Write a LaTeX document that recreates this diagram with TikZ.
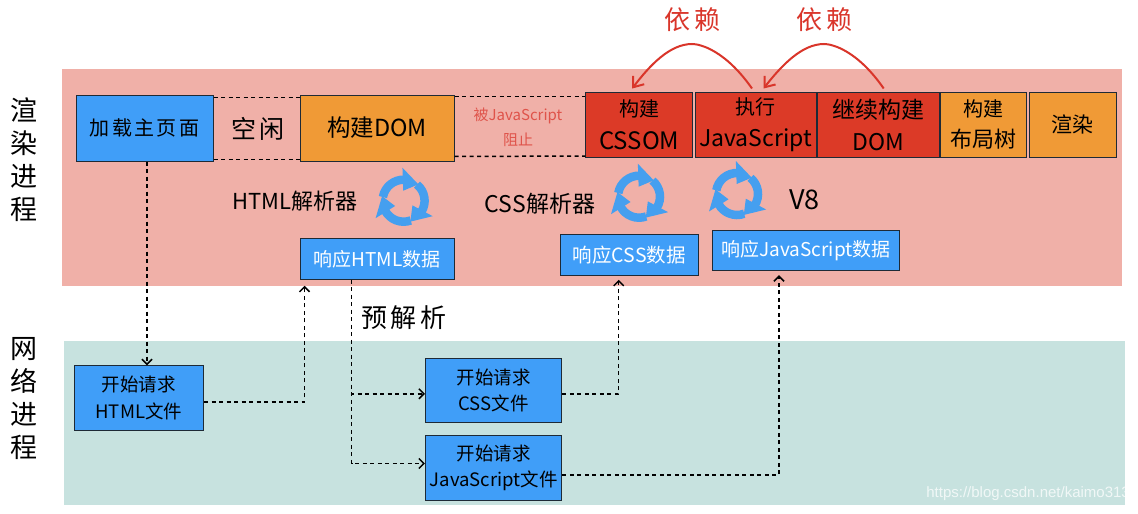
\documentclass[tikz,border=0pt]{standalone}
\usepackage{fontspec}
\setmainfont{Noto Sans CJK SC}
\newfontfamily\markfont{Liberation Sans}
\newfontfamily\widefont[LetterSpace=12]{Noto Sans CJK SC}
\usetikzlibrary{arrows.meta}

\definecolor{bandred}{HTML}{F0B0A8}
\definecolor{bandgreen}{HTML}{C7E2DF}
\definecolor{boxblue}{HTML}{409EF8}
\definecolor{boxorange}{HTML}{F09A36}
\definecolor{boxred}{HTML}{DC3A27}
\definecolor{edgedark}{HTML}{1E2A36}
\definecolor{cycleblue}{HTML}{459FEF}
\definecolor{inkred}{HTML}{D9352A}

\tikzset{
    stage/.style={draw=edgedark, line width=1pt, inner sep=0pt, align=center, text=black},
    bluebox/.style={stage, fill=boxblue},
    orangebox/.style={stage, fill=boxorange},
    redbox/.style={stage, fill=boxred},
    flow/.style={line width=1.5pt, dash pattern=on 4pt off 3.5pt, -{Straight Barb[length=5pt,width=10pt,line width=1.5pt]}},
    idle/.style={line width=1.5pt, dash pattern=on 4pt off 3.5pt},
    depend/.style={inkred, line width=2pt, -{Straight Barb[length=9pt,width=14pt,line width=2pt]}},
    cyclearrows/.pic={
        \foreach \turn in {0,-120,-240} {
            \begin{scope}[rotate=\turn]
                \draw[cycleblue, line width=8.5pt] (170:21) arc (170:88:21);
                \fill[cycleblue] (92:33) -- (92:10) -- (48:22) -- cycle;
            \end{scope}
        }
    }
}

\newcommand{\sz}[1]{\fontsize{#1}{#1}\selectfont}

\begin{document}
\begin{tikzpicture}[x=1pt, y=1pt]
    \useasboundingbox (0,-514) rectangle (1138,0);

    % 1. BANDS
    \fill[bandred] (62,-69) rectangle (1122,-286);
    \fill[bandgreen] (64,-341) rectangle (1125,-505);

    % SIDE LABELS
    \node[align=center, font=\sz{27}, inner sep=0pt] (render) at (24,-160)
        {渲\\[6pt]染\\[6pt]进\\[6pt]程};
    \node[align=center, font=\sz{27}, inner sep=0pt] (network) at (24,-399)
        {网\\[6pt]络\\[6pt]进\\[6pt]程};

    % 2. TOP ROW OF STAGES
    \node[bluebox, minimum width=137pt, minimum height=66pt, font=\widefont\sz{20}] (loadpage) at (144.5,-128) {加载主页面};
    \node[font=\widefont\sz{25}, inner sep=0pt] (idletext) at (258,-129) {空闲};
    \node[orangebox, minimum width=154pt, minimum height=66pt, font=\sz{23.5}] (builddom) at (377,-128) {构建DOM};
    \node[align=center, font=\sz{15}, text=inkred!85!white, inner sep=0pt] (blocked) at (518,-127.5)
        {被JavaScript\\[8pt]阻止};
    \node[redbox, minimum width=106.5pt, minimum height=65pt, font=\sz{24}] (cssom) at (639.2,-124.5) {{\sz{20}构建}\\[9pt]CSSOM};
    \node[redbox, minimum width=121pt, minimum height=65pt, font=\sz{23}] (runjs) at (755.5,-124.5) {{\sz{20}执行}\\[9pt]JavaScript};
    \node[redbox, minimum width=121.5pt, minimum height=65pt, font=\sz{23}] (contdom) at (878.7,-124.5) {继续构建\\[9pt]DOM};
    \node[orangebox, minimum width=86.5pt, minimum height=65pt, font=\sz{22}] (layout) at (983.7,-124.5) {{\sz{20}构建}\\[9pt]布局树};
    \node[orangebox, minimum width=87pt, minimum height=65pt, font=\sz{21}] (paint) at (1072.5,-124.5) {渲染};

    % DASHED GAPS
    \draw[idle] ([yshift=-3]loadpage.north east) -- ([yshift=-3]builddom.north west);
    \draw[idle] ([yshift=2]loadpage.south east) -- ([yshift=2]builddom.south west);
    \draw[idle] ([yshift=-2]builddom.north east) -- ([yshift=-5]cssom.north west);
    \draw[idle] ([yshift=5]builddom.south east) -- ([yshift=1.5]cssom.south west);

    % 3. DEPENDENCIES
    \node[font=\widefont\sz{26}, text=inkred, inner sep=0pt] (dep1) at (692.5,-20) {依赖};
    \node[font=\widefont\sz{26}, text=inkred, inner sep=0pt] (dep2) at (824.5,-20) {依赖};
    \draw[depend] ([xshift=-3.5,yshift=3]runjs.north) .. controls (725,-50) and (700,-44) .. (692,-44)
        .. controls (670,-44) and (650,-65) .. ([xshift=-7,yshift=3]cssom.north);
    \draw[depend] ([xshift=5,yshift=3]contdom.north) .. controls (857,-50) and (832,-44) .. (824,-44)
        .. controls (802,-44) and (782,-65) .. ([xshift=8,yshift=3]runjs.north);

    % 4. PARSERS
    \node[font=\sz{22}, inner sep=0pt] (htmlparser) at (294.5,-201) {HTML解析器};
    \node[font=\sz{23}, inner sep=0pt] (cssparser) at (540,-204) {CSS解析器};
    \node[font=\sz{27}, inner sep=0pt] (veight) at (804.5,-200) {V8};
    \pic at (403.6,-200.7) {cyclearrows};
    \pic at (639,-196.7) {cyclearrows};
    \pic at (737,-194) {cyclearrows};

    % RESPONSES
    \node[bluebox, minimum width=154pt, minimum height=40.5pt, font=\sz{19}, text=white] (resphtml) at (377,-259) {响应HTML数据};
    \node[bluebox, minimum width=138.5pt, minimum height=41pt, font=\sz{19.5}, text=white] (respcss) at (629.4,-254.8) {响应CSS数据};
    \node[bluebox, minimum width=187pt, minimum height=40pt, font=\sz{19}, text=white] (respjs) at (806,-250.7) {响应JavaScript数据};

    \node[font=\widefont\sz{26}, inner sep=0pt] (preparse) at (404,-317.5) {预解析};

    % 5. REQUESTS
    \node[bluebox, minimum width=129.5pt, minimum height=64.5pt, font=\sz{18.5}] (reqhtml) at (138.8,-398) {开始请求\\[8pt]HTML文件};
    \node[bluebox, minimum width=136.5pt, minimum height=64pt, font=\sz{18.5}] (reqcss) at (493.7,-390.3) {开始请求\\[8pt]CSS文件};
    \node[bluebox, minimum width=136.5pt, minimum height=64.5pt, font=\sz{18.5}] (reqjs) at (493.7,-468) {开始请求\\[8pt]JavaScript文件};

    % 6. DASHED FLOWS
    \draw[flow] ([xshift=2.5]loadpage.south) -- ([xshift=8.2]reqhtml.north);
    \draw[flow, shorten >=6pt] ([yshift=-4]reqhtml.east) -| ([xshift=-72.5]resphtml.south);
    \draw[flow] ([xshift=-25.4]resphtml.south) |- ([yshift=-3.5]reqcss.west);
    \draw[flow] ([xshift=-25.4]resphtml.south) |- ([yshift=4.5]reqjs.west);
    \draw[flow, shorten >=4pt] ([yshift=-3.5]reqcss.east) -| ([xshift=-10.7]respcss.south);
    \draw[flow, shorten >=4pt] ([yshift=-7]reqjs.east) -| ([xshift=-27]respjs.south);

    % WEB ADDRESS
    \node[font=\markfont\sz{15}, text=white, opacity=0.75, anchor=east, inner sep=0pt] (weblink) at (1130,-494) {https://blog.csdn.net/kaimo313};

\end{tikzpicture}
\end{document}
